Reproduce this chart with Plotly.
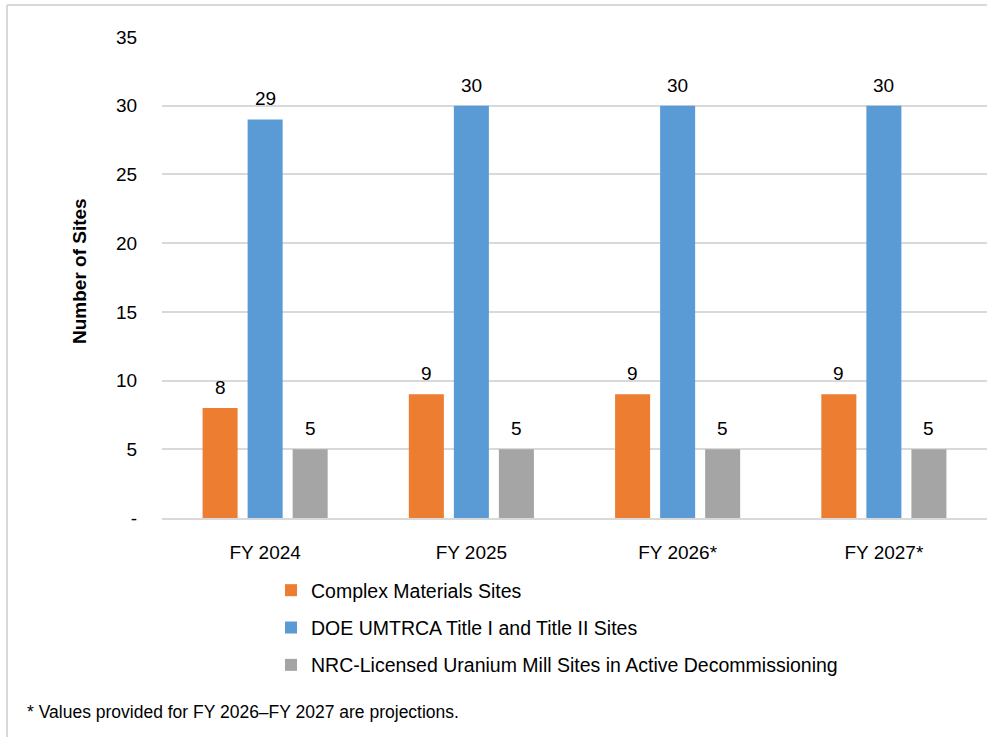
import plotly.graph_objects as go

# Site counts by fiscal year
years = ["FY 2024", "FY 2025", "FY 2026*", "FY 2027*"]
complex_materials = [8, 9, 9, 9]
doe_umtrca = [29, 30, 30, 30]
nrc_mill = [5, 5, 5, 5]

series_names = [
    "Complex Materials Sites",
    "DOE UMTRCA Title I and Title II Sites",
    "NRC-Licensed Uranium Mill Sites in Active Decommissioning",
]
series_values = [complex_materials, doe_umtrca, nrc_mill]
series_colors = ["#ED7D31", "#5B9BD5", "#A5A5A5"]

y_ticks = [0, 5, 10, 15, 20, 25, 30, 35]
y_tick_text = ["-", "5", "10", "15", "20", "25", "30", "35"]

FONT = "Liberation Sans, Arial, sans-serif"

W, H = 997, 737
ML, MR, MT, MB = 162, 10, 37, 219
plot_w = W - ML - MR
plot_h = H - MT - MB


def px_x(px):
    """Horizontal pixel position -> paper coordinate."""
    return (px - ML) / plot_w


def px_y(py):
    """Vertical pixel position (from top) -> paper coordinate."""
    return (H - MB - py) / plot_h


fig = go.Figure()
for i, (name, vals, col) in enumerate(zip(series_names, series_values, series_colors)):
    fig.add_trace(go.Bar(
        x=years, y=vals, name=name, marker_color=col,
        marker_line_width=0, legendgroup=f"g{i}",
    ))

# value labels above each bar, offset horizontally to the bar's slot
n_series = len(series_values)
bargap = 0.345
slot_px = plot_w / len(years) * (1 - bargap) / n_series
annotations = []
for i, vals in enumerate(series_values):
    shift = (i - (n_series - 1) / 2) * slot_px
    for yr, v in zip(years, vals):
        annotations.append(dict(
            x=yr, y=v, xref="x", yref="y", text=str(v), showarrow=False,
            xshift=shift, yanchor="bottom", yshift=8,
            font=dict(family=FONT, size=19, color="#000000"),
        ))

# y-axis title
annotations.append(dict(
    x=px_x(79), y=px_y(271), xref="paper", yref="paper",
    text="<b>Number of Sites</b>", textangle=-90, showarrow=False,
    xanchor="center", yanchor="middle",
    font=dict(family=FONT, size=19, color="#000000"),
))

# footnote
annotations.append(dict(
    x=px_x(25), y=px_y(712), xref="paper", yref="paper",
    text="* Values provided for FY 2026–FY 2027 are projections.",
    showarrow=False, xanchor="left", yanchor="middle",
    font=dict(family=FONT, size=17.5, color="#000000"),
))

fig.update_layout(
    width=W, height=H,
    margin=dict(l=ML, r=MR, t=MT, b=MB),
    paper_bgcolor="white", plot_bgcolor="white",
    barmode="group", bargap=bargap, bargroupgap=0.222,
    font=dict(family=FONT, color="#000000"),
    showlegend=True,
    legend=dict(
        orientation="v", x=px_x(271), xanchor="left", y=px_y(571), yanchor="top",
        font=dict(family=FONT, size=19.5, color="#000000"),
        traceorder="grouped", tracegroupgap=9,
        bgcolor="rgba(0,0,0,0)",
    ),
    annotations=annotations,
    xaxis=dict(
        showgrid=False, showline=True, linecolor="#D9D9D9", linewidth=2,
        ticks="outside", ticklen=16, tickcolor="rgba(0,0,0,0)",
        tickfont=dict(family=FONT, size=19, color="#000000"),
    ),
    yaxis=dict(
        range=[0, 35], tickvals=y_ticks, ticktext=y_tick_text,
        showgrid=True, gridcolor="#D9D9D9", gridwidth=2,
        zeroline=False, showline=False,
        ticks="outside", ticklen=20, tickcolor="rgba(0,0,0,0)",
        tickfont=dict(family=FONT, size=19, color="#000000"),
    ),
)

# chart frame
top = px_y(5)
left = px_x(7)
fig.add_shape(type="line", xref="paper", yref="paper",
              x0=left, x1=px_x(987), y0=top, y1=top,
              line=dict(color="#D9D9D9", width=2))
fig.add_shape(type="line", xref="paper", yref="paper",
              x0=left, x1=left, y0=top, y1=px_y(740),
              line=dict(color="#D9D9D9", width=2))

fig.write_html("out.html", config={"displayModeBar": False})
